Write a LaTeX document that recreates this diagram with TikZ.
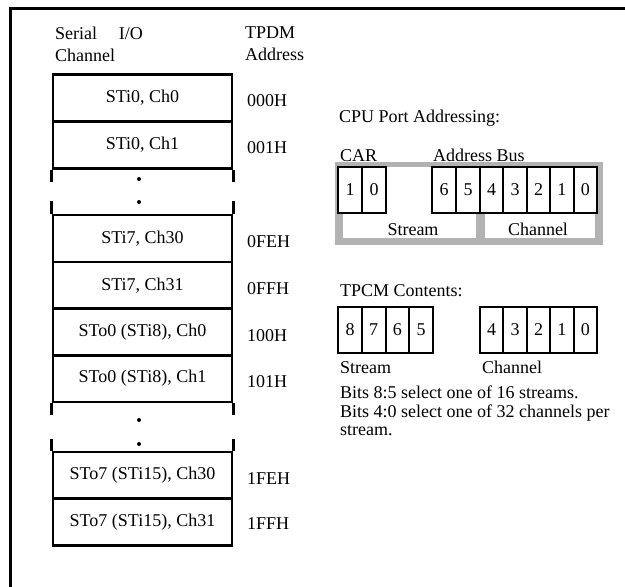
\documentclass[tikz,border=0pt]{standalone}
\usepackage{fontspec}
\setmainfont{Liberation Serif}
\definecolor{framegray}{RGB}{178,178,178}
\tikzset{
  txt/.style={inner sep=0pt, font=\fontsize{18}{22}\selectfont},
  rowbox/.style={draw, line width=2.6pt, minimum width=179pt, minimum height=47pt, inner sep=0pt, font=\fontsize{18}{22}\selectfont},
  addr/.style={txt, anchor=west},
  cell/.style={draw, fill=white, line width=2pt, minimum width=23.6pt, minimum height=46pt, inner sep=0pt, font=\fontsize{18}{22}\selectfont},
  dotmark/.style={fill=black},
}
\begin{document}
\begin{tikzpicture}[x=1pt,y=-1pt]
\useasboundingbox (0,0) rectangle (625,587);
% outer frame (top and left sides only)
\draw[line width=3pt] (625,8) -- (10,8) -- (10,587);

% headers
\node[txt, anchor=north west, align=left, font=\fontsize{18}{22}\selectfont] (hdr1) at (55,27) {Serial\hspace{1.2em}I/O\\Channel};
\node[txt, anchor=north west, align=left, font=\fontsize{18}{22}\selectfont] (hdr2) at (245,27) {TPDM\\Address};

% channel rows
\node[rowbox] (r1) at (142.5,98) {STi0, Ch0};
\node[rowbox] (r2) at (142.5,145) {STi0, Ch1};
\node[rowbox] (r3) at (142.5,238.5) {STi7, Ch30};
\node[rowbox] (r4) at (142.5,285.5) {STi7, Ch31};
\node[rowbox] (r5) at (142.5,332) {STo0 (STi8), Ch0};
\node[rowbox] (r6) at (142.5,378.5) {STo0 (STi8), Ch1};
\node[rowbox] (r7) at (142.5,475.5) {STo7 (STi15), Ch30};
\node[rowbox] (r8) at (142.5,522) {STo7 (STi15), Ch31};

% stubs and dots
\draw[line width=2.6pt] (r2.south west) -- ++(0,12);
\draw[line width=2.6pt] (r2.south east) -- ++(0,12);
\draw[line width=2.6pt] (r3.north west) -- ++(0,-13);
\draw[line width=2.6pt] (r3.north east) -- ++(0,-13);
\fill[dotmark] (139,179) circle (2pt);
\fill[dotmark] (139,202) circle (2pt);
\draw[line width=2.6pt] (r6.south west) -- ++(0,12);
\draw[line width=2.6pt] (r6.south east) -- ++(0,12);
\draw[line width=2.6pt] (r7.north west) -- ++(0,-12);
\draw[line width=2.6pt] (r7.north east) -- ++(0,-12);
\fill[dotmark] (139,420) circle (2pt);
\fill[dotmark] (139,444) circle (2pt);

% addresses
\node[addr] (a1) at (247,101) {000H};
\node[addr] (a2) at (247,148) {001H};
\node[addr] (a3) at (247,242) {0FEH};
\node[addr] (a4) at (247,289) {0FFH};
\node[addr] (a5) at (247,336) {100H};
\node[addr] (a6) at (247,382) {101H};
\node[addr] (a7) at (247,479) {1FEH};
\node[addr] (a8) at (247,524) {1FFH};

% CPU Port Addressing
\node[txt, anchor=base west] (cpu) at (339,122) {CPU Port Addressing:};
\node[txt, anchor=base west] (car) at (340,161) {CAR};
\node[txt, anchor=base west] (abus) at (433,161) {Address Bus};
\fill[framegray] (335,162) rectangle (603,245);
\fill[white] (343,167) rectangle (476,238);
\fill[white] (485,167) rectangle (595,238);
\node[txt, anchor=base] (strA) at (413,235) {Stream};
\node[txt, anchor=base] (chA) at (538,235) {Channel};
\node[cell, minimum width=24pt] (k1) at (350,189.5) {1};
\node[cell, minimum width=24pt] (k0) at (374,189.5) {0};
\node[cell, minimum width=24pt] (b6) at (444,189.5) {6};
\node[cell, minimum width=24pt] (b5) at (468,189.5) {5};
\node[cell] (b4) at (491.7,189.5) {4};
\node[cell] (b3) at (515.1,189.5) {3};
\node[cell] (b2) at (538.5,189.5) {2};
\node[cell] (b1) at (561.9,189.5) {1};
\node[cell] (b0) at (585.3,189.5) {0};

% TPCM Contents
\node[txt, anchor=base west] (tpcm) at (340,296) {TPCM Contents:};
\node[cell] (t8) at (350,330) {8};
\node[cell] (t7) at (373.7,330) {7};
\node[cell] (t6) at (397.4,330) {6};
\node[cell] (t5) at (421.1,330) {5};
\node[cell] (t4) at (491.7,330) {4};
\node[cell] (t3) at (515.1,330) {3};
\node[cell] (t2) at (538.5,330) {2};
\node[cell] (t1) at (561.9,330) {1};
\node[cell] (t0) at (585.3,330) {0};
\node[txt, anchor=base west] (strB) at (340,373) {Stream};
\node[txt, anchor=base west] (chB) at (482,373) {Channel};
\node[txt, anchor=north west, align=left, font=\fontsize{18}{18.5}\selectfont] (bits) at (340,386) {Bits 8:5 select one of 16 streams.\\Bits 4:0 select one of 32 channels per\\stream.};
\end{tikzpicture}
\end{document}
